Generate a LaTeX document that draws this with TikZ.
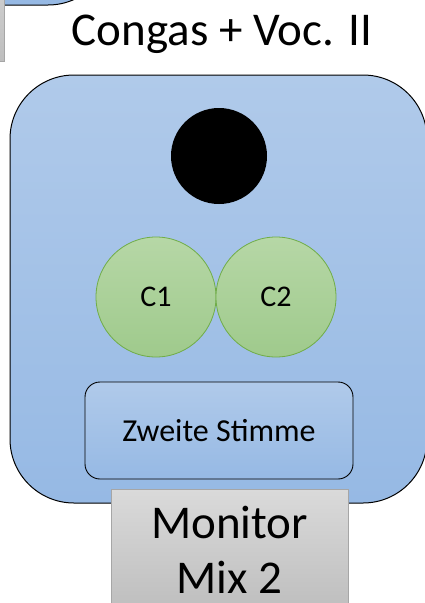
\documentclass[tikz,border=0pt]{standalone}
\usepackage{fontspec}
\setmainfont{Carlito}
\definecolor{stagetop}{RGB}{176,202,234}
\definecolor{stagebot}{RGB}{150,185,228}
\definecolor{micgreen}{RGB}{112,173,71}
\definecolor{greentop}{RGB}{182,215,166}
\definecolor{greenbot}{RGB}{159,202,140}
\definecolor{greytop}{RGB}{218,218,218}
\definecolor{greybot}{RGB}{190,190,190}
\begin{document}
\begin{tikzpicture}[x=1pt,y=-1pt,
	stage/.style={rectangle, rounded corners=64pt, draw=black, line width=1pt, top color=stagetop, bottom color=stagebot, minimum width=417pt, minimum height=428pt},
	monitor/.style={rectangle, draw=black!35, line width=0.8pt, top color=greytop, bottom color=greybot, minimum width=237pt, minimum height=121pt, align=center, font=\fontsize{47}{55}\selectfont},
	conga/.style={circle, draw=micgreen, line width=0.8pt, top color=greentop, bottom color=greenbot, minimum size=120pt, inner sep=0pt, font=\fontsize{30}{36}\selectfont}]
	\clip (0,0) rectangle (425,603);
	% neighbour group, cut off at the top left
	\node (S1) at (-96.5, -209)	[stage]	{};
	\node (M1) at (-114.5, 0.5)	[monitor]	{};
	% group 2
	\node (T2) at (222, 45)	[anchor=base, font=\fontsize{47}{55}\selectfont]	{Congas + Voc. II};
	\node (S2) at (218.5, 289)	[stage, minimum width=417pt]	{};
	\node (P2) at (219, 156)	[circle, fill=black, minimum size=96pt, inner sep=0pt]	{};
	\node (C1) at (156, 297)	[conga]	{C1};
	\node (C2) at (276, 297)	[conga]	{C2};
	\node (V2) at (219, 430.5)	[rectangle, rounded corners=15pt, draw=black, line width=0.9pt, top color=stagetop, bottom color=stagebot, minimum width=268pt, minimum height=97pt, font=\fontsize{32}{38}\selectfont]	{Zweite Stimme};
	\node (M2) at (229.5, 549.5)	[monitor]	{Monitor\\Mix 2};
\end{tikzpicture}
\end{document}
